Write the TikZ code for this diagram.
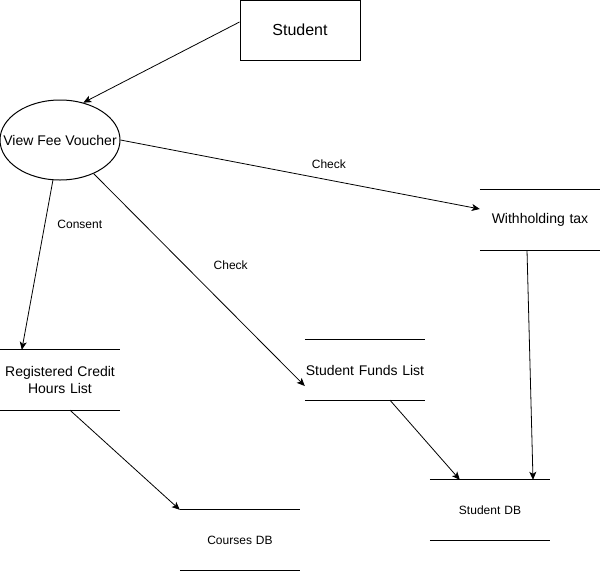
\documentclass[tikz,border=0pt]{standalone}
\usepackage{fontspec}
\setmainfont{Liberation Sans}
\usepackage{tikz}
\usetikzlibrary{shapes,arrows.meta,positioning}

\begin{document}
\begin{tikzpicture}[
        x=1pt, y=-1pt,
        entity/.style={rectangle, draw, line width=1pt, minimum width=120pt, minimum height=60pt, inner sep=0pt, font=\fontsize{16}{19}\selectfont},
        process/.style={ellipse, draw, line width=1pt, minimum width=120pt, minimum height=80pt, inner sep=0pt},
        store/.style={rectangle, minimum width=120pt, minimum height=60pt, inner sep=0pt, text width=140pt, align=center, font=\fontsize{14}{17}\selectfont},
        smallstore/.style={store, font=\fontsize{12}{14}\selectfont},
        arrow/.style={line width=0.8pt, -{Stealth[length=8pt, width=7pt, inset=2pt]}},
        lbl/.style={font=\fontsize{12}{14}\selectfont}
    ]
        \useasboundingbox (0,0) rectangle (601,571);

        % External entity and process
        \node[entity] (student) at (300,30) {Student};
        \node[process, label={[font=\fontsize{14}{17}\selectfont]center:View Fee Voucher}] (voucher) at (60,140) {};

        % Data stores
        \node[store] (tax) at (540,220) {Withholding tax};
        \node[store] (hours) at (60,380) {Registered Credit\\Hours List};
        \node[store] (funds) at (365,370) {Student Funds List};
        \node[smallstore] (studentdb) at (490,510) {Student DB};
        \node[smallstore] (coursesdb) at (240,540) {Courses DB};
        \foreach \s in {tax,hours,funds,studentdb,coursesdb}
            \draw[line width=1pt] ([xshift=10pt]\s.north west) -- ([xshift=-10pt]\s.north east) ([xshift=10pt]\s.south west) -- ([xshift=-10pt]\s.south east);

        % Flows
        \draw[arrow] ([yshift=8pt]student.west) -- (voucher.58);
        \draw[arrow] (voucher.east) -- node[lbl, pos=0.58, yshift=16pt] {Check} ([yshift=11pt,xshift=10pt]tax.west);
        \draw[arrow] (voucher.-45) -- node[lbl, pos=0.54, xshift=23pt, yshift=23pt] {Check} ([yshift=-16pt,xshift=10pt]funds.west);
        \draw[arrow] (voucher.-100) -- node[lbl, pos=0.26, xshift=35pt] {Consent} ([xshift=32pt]hours.north west);
        \draw[arrow] ([xshift=10pt]hours.south) -- ([xshift=10pt]coursesdb.north west);
        \draw[arrow] ([xshift=25pt]funds.south) -- ([xshift=40pt]studentdb.north west);
        \draw[arrow] ([xshift=-13pt]tax.south) -- ([xshift=43pt]studentdb.north);
    \end{tikzpicture}
\end{document}
